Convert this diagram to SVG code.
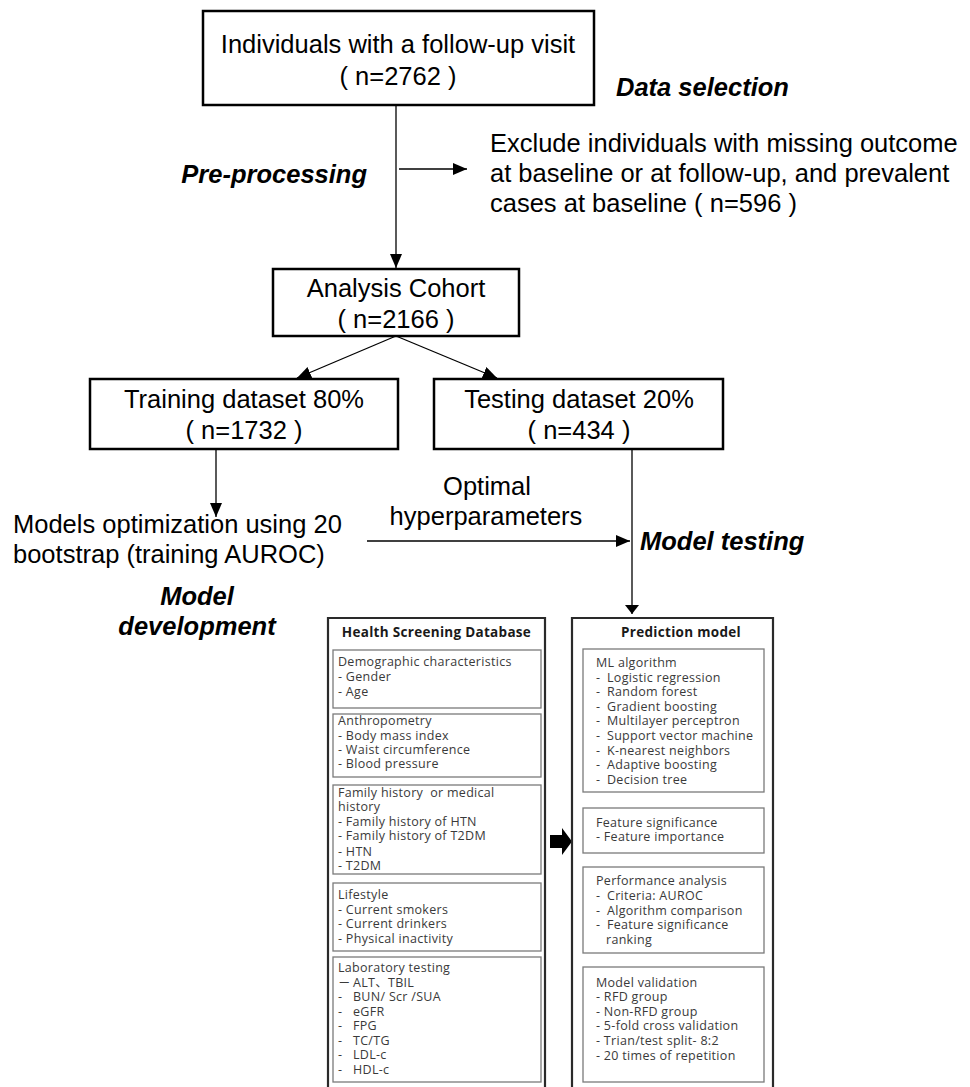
<svg xmlns="http://www.w3.org/2000/svg" width="970" height="1087" viewBox="0 0 970 1087">
<style>
.big{font-family:"Liberation Sans",Arial,sans-serif;font-size:25.5px;fill:#000}
.bi{font-family:"Liberation Sans",Arial,sans-serif;font-size:25.5px;font-weight:bold;font-style:italic;fill:#000}
.box{fill:#fff;stroke:#000;stroke-width:2.5}
.conn{fill:none;stroke:#000;stroke-width:1.3}
.panel{fill:none;stroke:#2a2a2a;stroke-width:2.2}
.ibox{fill:#fff;stroke:#7a7a7a;stroke-width:1.3}
.sm{font-family:"Open Sans","Noto Sans","Noto Sans CJK SC",sans-serif;font-size:12.5px;letter-spacing:0.3px;fill:#3a3a3a}
.ttl{font-family:"Open Sans","Noto Sans",sans-serif;font-size:13.5px;font-weight:bold;letter-spacing:0.3px;fill:#1a1a1a}
</style>
<defs>
<marker id="ah" markerWidth="14" markerHeight="12" refX="14" refY="6" orient="auto" markerUnits="userSpaceOnUse"><path d="M0,0 L14,6 L0,12 z" fill="#000"/></marker>
<marker id="ah2" markerWidth="9" markerHeight="14" refX="9" refY="7" orient="auto" markerUnits="userSpaceOnUse"><path d="M0,0 L9,7 L0,14 z" fill="#000"/></marker>
</defs>

<rect width="970" height="1087" fill="#fff"/>

<g id="connectors">
<path class="conn" d="M396,105 V268" marker-end="url(#ah)"/>
<path class="conn" d="M399,169 H467" marker-end="url(#ah)"/>
<path class="conn" d="M396,336 L297,378" marker-end="url(#ah)"/>
<path class="conn" d="M396,336 L497,378" marker-end="url(#ah)"/>
<path class="conn" d="M216,449 V517" marker-end="url(#ah)"/>
<path class="conn" d="M367,541 H630" marker-end="url(#ah)"/>
<path class="conn" d="M632,449 V614" marker-end="url(#ah2)"/>
<polygon points="550,835 562,835 562,828 572,841.5 562,855 562,848 550,848" fill="#000"/>
</g>

<g id="n-start">
<rect class="box" x="203" y="11" width="391" height="94"/>
<text class="big" x="398" y="53" text-anchor="middle">Individuals with a follow-up visit</text>
<text class="big" x="398" y="85" text-anchor="middle">( n=2762 )</text>
</g>

<g id="n-dataselection">
<text class="bi" x="616" y="96">Data selection</text>
</g>

<g id="n-preprocessing">
<text class="bi" x="367" y="183" text-anchor="end">Pre-processing</text>
</g>

<g id="n-exclude">
<text class="big" x="490" y="152">Exclude individuals with missing outcome</text>
<text class="big" x="490" y="182">at baseline or at follow-up, and prevalent</text>
<text class="big" x="490" y="212">cases at baseline ( n=596 )</text>
</g>

<g id="n-cohort">
<rect class="box" x="273" y="269" width="246" height="67" stroke-width="2"/>
<text class="big" x="396" y="297" text-anchor="middle">Analysis Cohort</text>
<text class="big" x="396" y="328" text-anchor="middle">( n=2166 )</text>
</g>

<g id="n-training">
<rect class="box" x="90" y="379" width="308" height="70"/>
<text class="big" x="244" y="408" text-anchor="middle">Training dataset 80%</text>
<text class="big" x="244" y="439" text-anchor="middle">( n=1732 )</text>
</g>

<g id="n-testing">
<rect class="box" x="434" y="379" width="289" height="70"/>
<text class="big" x="579" y="408" text-anchor="middle">Testing dataset 20%</text>
<text class="big" x="579" y="439" text-anchor="middle">( n=434 )</text>
</g>

<g id="n-optimization">
<text class="big" x="13" y="533">Models optimization using 20</text>
<text class="big" x="13" y="563">bootstrap (training AUROC)</text>
</g>

<g id="n-optimal">
<text class="big" x="487" y="495" text-anchor="middle">Optimal</text>
<text class="big" x="486" y="525" text-anchor="middle">hyperparameters</text>
</g>

<g id="n-modeltesting">
<text class="bi" x="640" y="550">Model testing</text>
</g>

<g id="n-modeldev">
<text class="bi" x="197" y="605" text-anchor="middle">Model</text>
<text class="bi" x="197" y="635" text-anchor="middle">development</text>
</g>

<g id="n-database">
<path class="panel" d="M328,1090 V618 H545 V1090"/>
<text class="ttl" x="436.5" y="637" text-anchor="middle">Health Screening Database</text>
<rect class="ibox" x="333" y="650" width="208" height="58"/>
<text class="sm" x="338" y="666">Demographic characteristics</text>
<text class="sm" x="338" y="681">- Gender</text>
<text class="sm" x="338" y="696">- Age</text>
<rect class="ibox" x="333" y="714" width="208" height="63"/>
<text class="sm" x="338" y="725">Anthropometry</text>
<text class="sm" x="338" y="739.5">- Body mass index</text>
<text class="sm" x="338" y="753.5">- Waist circumference</text>
<text class="sm" x="338" y="768">- Blood pressure</text>
<rect class="ibox" x="333" y="785" width="208" height="89"/>
<text class="sm" x="338" y="797" style="white-space:pre">Family history  or medical</text>
<text class="sm" x="338" y="811">history</text>
<text class="sm" x="338" y="826">- Family history of HTN</text>
<text class="sm" x="338" y="840">- Family history of T2DM</text>
<text class="sm" x="338" y="855.5">- HTN</text>
<text class="sm" x="338" y="870">- T2DM</text>
<rect class="ibox" x="333" y="883" width="208" height="68"/>
<text class="sm" x="338" y="898.5">Lifestyle</text>
<text class="sm" x="338" y="913.5">- Current smokers</text>
<text class="sm" x="338" y="927.5">- Current drinkers</text>
<text class="sm" x="338" y="942.5">- Physical inactivity</text>
<rect class="ibox" x="333" y="957" width="208" height="125"/>
<text class="sm" x="338" y="971.5">Laboratory testing</text>
<text class="sm" y="986.5"><tspan x="338">－</tspan><tspan x="353">ALT、TBIL</tspan></text>
<text class="sm" y="1000.5"><tspan x="338">-</tspan><tspan x="353">BUN/ Scr /SUA</tspan></text>
<text class="sm" y="1015.5"><tspan x="338">-</tspan><tspan x="353">eGFR</tspan></text>
<text class="sm" y="1029.5"><tspan x="338">-</tspan><tspan x="353">FPG</tspan></text>
<text class="sm" y="1044.5"><tspan x="338">-</tspan><tspan x="353">TC/TG</tspan></text>
<text class="sm" y="1058.5"><tspan x="338">-</tspan><tspan x="353">LDL-c</tspan></text>
<text class="sm" y="1073.5"><tspan x="338">-</tspan><tspan x="353">HDL-c</tspan></text>
</g>

<g id="n-prediction">
<path class="panel" d="M572,1090 V618 H773 V1090"/>
<text class="ttl" x="681" y="637" text-anchor="middle">Prediction model</text>
<rect class="ibox" x="583" y="649" width="181" height="143"/>
<text class="sm" x="596" y="666.5">ML algorithm</text>
<text class="sm" y="682"><tspan x="596">-</tspan><tspan x="607">Logistic regression</tspan></text>
<text class="sm" y="696"><tspan x="596">-</tspan><tspan x="607">Random forest</tspan></text>
<text class="sm" y="710.5"><tspan x="596">-</tspan><tspan x="607">Gradient boosting</tspan></text>
<text class="sm" y="725"><tspan x="596">-</tspan><tspan x="607">Multilayer perceptron</tspan></text>
<text class="sm" y="740"><tspan x="596">-</tspan><tspan x="607">Support vector machine</tspan></text>
<text class="sm" y="754.5"><tspan x="596">-</tspan><tspan x="607">K-nearest neighbors</tspan></text>
<text class="sm" y="769"><tspan x="596">-</tspan><tspan x="607">Adaptive boosting</tspan></text>
<text class="sm" y="783.5"><tspan x="596">-</tspan><tspan x="607">Decision tree</tspan></text>
<rect class="ibox" x="583" y="808" width="181" height="45"/>
<text class="sm" x="596" y="827">Feature significance</text>
<text class="sm" x="596" y="841">- Feature importance</text>
<rect class="ibox" x="583" y="867" width="181" height="86"/>
<text class="sm" x="596" y="885">Performance analysis</text>
<text class="sm" y="900"><tspan x="596">-</tspan><tspan x="607">Criteria: AUROC</tspan></text>
<text class="sm" y="914.5"><tspan x="596">-</tspan><tspan x="607">Algorithm comparison</tspan></text>
<text class="sm" y="929"><tspan x="596">-</tspan><tspan x="607">Feature significance</tspan></text>
<text class="sm" x="606" y="943.5">ranking</text>
<rect class="ibox" x="583" y="967" width="181" height="115"/>
<text class="sm" x="596" y="987">Model validation</text>
<text class="sm" x="596" y="1001">- RFD group</text>
<text class="sm" x="596" y="1016">- Non-RFD group</text>
<text class="sm" x="596" y="1030">- 5-fold cross validation</text>
<text class="sm" x="596" y="1045">- Trian/test split- 8:2</text>
<text class="sm" x="596" y="1059.5">- 20 times of repetition</text>
</g>
</svg>
